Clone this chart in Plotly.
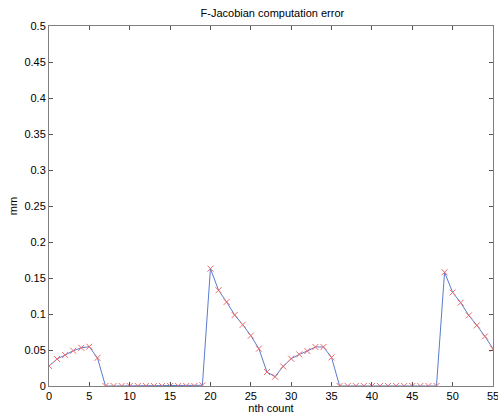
import plotly.graph_objects as go

count = list(range(0, 56))
error_mm = [
    0.0278, 0.0375, 0.043, 0.049, 0.053, 0.0546, 0.039,
    0, 0, 0, 0, 0, 0, 0, 0, 0, 0, 0, 0, 0.001,
    0.163, 0.133, 0.1167, 0.0986, 0.0851, 0.0699, 0.0518, 0.0194, 0.0129,
    0.0272, 0.0379, 0.0439, 0.0486, 0.0542, 0.0542, 0.0397,
    0, 0, 0, 0, 0, 0, 0, 0, 0, 0, 0, 0, 0,
    0.158, 0.130, 0.1157, 0.098, 0.0842, 0.0689, 0.0518,
]
x_ticks = list(range(0, 56, 5))
y_ticks = [0, 0.05, 0.1, 0.15, 0.2, 0.25, 0.3, 0.35, 0.4, 0.45, 0.5]
y_tick_text = ["0", "0.05", "0.1", "0.15", "0.2", "0.25", "0.3", "0.35", "0.4", "0.45", "0.5"]

fig = go.Figure()
fig.add_trace(go.Scatter(
    x=count, y=error_mm, mode="lines",
    line=dict(color="#5a7ccc", width=1),
    hoverinfo="skip", showlegend=False,
))
fig.add_trace(go.Scatter(
    x=count, y=error_mm, mode="markers",
    marker=dict(symbol="x-thin", size=6, line=dict(color="#f06a6a", width=1)),
    showlegend=False,
))

font = dict(family="Liberation Sans, Arial, sans-serif", size=11, color="#000000")
axis_common = dict(
    showgrid=False, zeroline=False, showline=True, linecolor="#808080", linewidth=1,
    mirror="ticks", ticks="inside", ticklen=4, tickcolor="#555555",
    tickfont=font, ticklabeloverflow="allow", automargin=False,
)
fig.update_layout(
    width=498, height=419,
    margin=dict(l=49, r=5, t=26, b=33),
    paper_bgcolor="white", plot_bgcolor="white",
    font=font,
    title=dict(text="F-Jacobian computation error", x=0.547, xanchor="center",
               y=1 - 13 / 419, yanchor="middle", font=dict(family=font["family"], size=11)),
    xaxis=dict(range=[0, 55], tickvals=x_ticks, ticktext=[str(v) for v in x_ticks],
               title=dict(text="nth count", font=font, standoff=2), **axis_common),
    yaxis=dict(range=[0, 0.5], tickvals=y_ticks, ticktext=y_tick_text,
               title=dict(text="mm", font=font, standoff=4), **axis_common),
)

fig.write_html("out.html", config={"displayModeBar": False},
               post_script="document.body.style.margin='0';")
